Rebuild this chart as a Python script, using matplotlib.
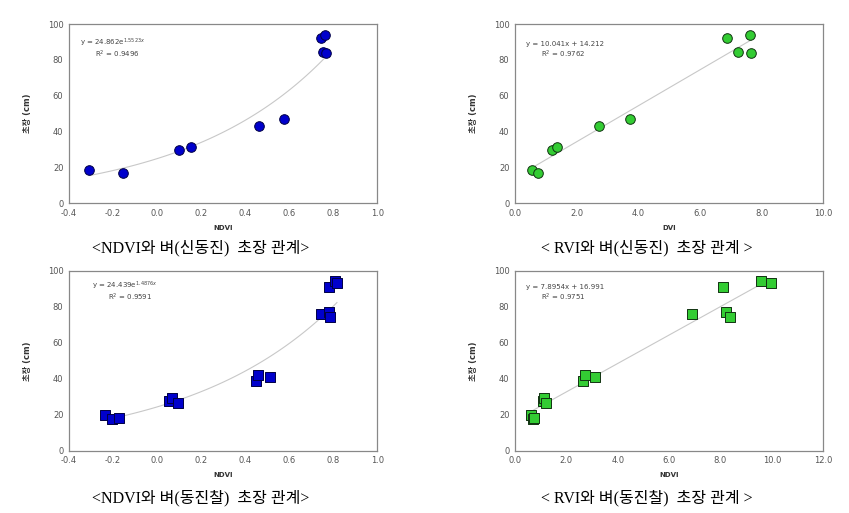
import numpy as np
import matplotlib.pyplot as plt

plt.rcParams['font.family'] = ['DejaVu Sans', 'Noto Sans CJK KR']

# 신동진 (top row)
sd_ndvi = [-0.307, -0.157, 0.098, 0.154, 0.463, 0.576, 0.743, 0.765, 0.755, 0.767]
sd_rvi = [0.54, 0.75, 1.21, 1.37, 2.74, 3.72, 6.87, 7.62, 7.22, 7.66]
sd_height = [18.6, 17.1, 29.7, 31.4, 43.3, 47.2, 92.0, 93.7, 84.6, 84.0]

# 동진찰 (bottom row)
dj_ndvi = [-0.235, -0.206, -0.172, 0.052, 0.067, 0.095, 0.451, 0.460, 0.515,
           0.746, 0.782, 0.787, 0.779, 0.809, 0.817]
dj_rvi = [0.62, 0.70, 0.73, 1.10, 1.14, 1.22, 2.66, 2.72, 3.13,
          6.91, 8.21, 8.39, 8.11, 9.59, 9.95]
dj_height = [19.8, 17.6, 18.1, 28.0, 29.3, 26.7, 38.9, 42.0, 41.1,
             75.9, 77.0, 74.4, 90.9, 94.4, 93.0]

captions = ['<NDVI와 벼(신동진)  초장 관계>', '< RVI와 벼(신동진)  초장 관계 >',
            '<NDVI와 벼(동진찰)  초장 관계>', '< RVI와 벼(동진찰)  초장 관계 >']

fig = plt.figure(figsize=(8.49, 5.13), dpi=100)

boxes = [[0.0813, 0.604, 0.363, 0.349], [0.6066, 0.604, 0.363, 0.349],
         [0.0813, 0.121, 0.363, 0.351], [0.6066, 0.121, 0.363, 0.351]]


def setup(ax, xlim, xticks, xfmt, xlabel):
    ax.set_xlim(xlim)
    ax.set_ylim(0, 100)
    ax.set_xticks(xticks)
    ax.set_xticklabels([xfmt.format(t) for t in xticks])
    ax.set_yticks(range(0, 101, 20))
    ax.tick_params(length=0, labelsize=6, labelcolor='#555555', pad=4)
    for s in ax.spines.values():
        s.set_color('#888888')
        s.set_linewidth(0.9)
    ax.set_xlabel(xlabel, fontsize=5, fontweight='bold', color='#333333', labelpad=5)
    ax.set_ylabel('초장 (cm)', fontsize=6, fontweight='bold', color='#333333', labelpad=11)


def eq(ax, line1, line2, x0, y0):
    ax.text(x0, y0, line1, transform=ax.transAxes, fontsize=5, color='#444444')
    ax.text(x0 + 0.05, y0 - 0.065, line2, transform=ax.transAxes, fontsize=5, color='#444444')


# top-left: NDVI vs height, 신동진
ax = fig.add_axes(boxes[0])
xs = np.linspace(min(sd_ndvi), max(sd_ndvi), 100)
ax.plot(xs, 24.862 * np.exp(1.5523 * xs), color='#c8c8c8', lw=0.8, zorder=1)
ax.scatter(sd_ndvi, sd_height, s=48, marker='o', color='#0000cc', edgecolor='#000044', lw=0.7, zorder=2)
setup(ax, (-0.4, 1.0), np.arange(-0.4, 1.01, 0.2), '{:.1f}', 'NDVI')
eq(ax, 'y = 24.862e$^{1.5523x}$', 'R$^2$ = 0.9496', 0.035, 0.88)

# top-right: RVI vs height, 신동진
ax = fig.add_axes(boxes[1])
xs = np.linspace(min(sd_rvi), max(sd_rvi), 10)
ax.plot(xs, 10.041 * xs + 14.212, color='#c8c8c8', lw=0.8, zorder=1)
ax.scatter(sd_rvi, sd_height, s=48, marker='o', color='#33cc33', edgecolor='#113311', lw=0.7, zorder=2)
setup(ax, (0, 10), np.arange(0, 10.1, 2), '{:.1f}', 'DVI')
eq(ax, 'y = 10.041x + 14.212', 'R$^2$ = 0.9762', 0.035, 0.88)

# bottom-left: NDVI vs height, 동진찰
ax = fig.add_axes(boxes[2])
xs = np.linspace(-0.2, max(dj_ndvi), 100)
ax.plot(xs, 24.439 * np.exp(1.4876 * xs), color='#c8c8c8', lw=0.8, zorder=1)
ax.scatter(dj_ndvi, dj_height, s=52, marker='s', color='#0000cc', edgecolor='#000044', lw=0.7, zorder=2)
setup(ax, (-0.4, 1.0), np.arange(-0.4, 1.01, 0.2), '{:.1f}', 'NDVI')
eq(ax, 'y = 24.439e$^{1.4876x}$', 'R$^2$ = 0.9591', 0.075, 0.90)

# bottom-right: RVI vs height, 동진찰
ax = fig.add_axes(boxes[3])
xs = np.linspace(min(dj_rvi), max(dj_rvi), 10)
ax.plot(xs, 7.8954 * xs + 16.991, color='#c8c8c8', lw=0.8, zorder=1)
ax.scatter(dj_rvi, dj_height, s=52, marker='s', color='#33cc33', edgecolor='#113311', lw=0.7, zorder=2)
setup(ax, (0, 12), np.arange(0, 12.1, 2), '{:.1f}', 'NDVI')
eq(ax, 'y = 7.8954x + 16.991', 'R$^2$ = 0.9751', 0.035, 0.90)

cap_pos = [(0.236, 0.517), (0.762, 0.517), (0.236, 0.029), (0.762, 0.029)]
for (cx, cy), c in zip(cap_pos, captions):
    fig.text(cx, cy, c, ha='center', va='center', fontsize=11.5,
             family=['Liberation Serif', 'Noto Sans CJK KR'])

fig.savefig('out.png', dpi=100)
